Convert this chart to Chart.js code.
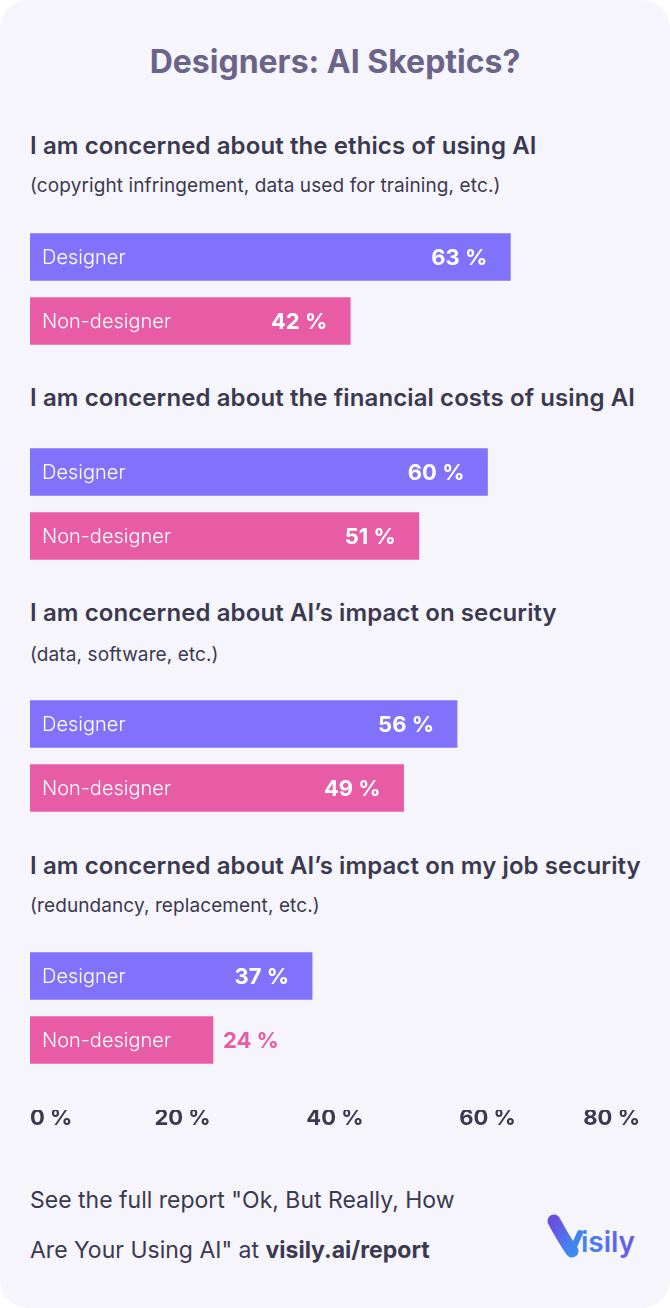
<!DOCTYPE html>
<html>
<head>
<meta charset="utf-8">
<script src="https://cdn.jsdelivr.net/npm/chart.js@4.4.1/dist/chart.umd.min.js"></script>
<style>
  html, body { margin: 0; padding: 0; background: #ffffff; }
  #card {
    position: relative; width: 670px; height: 1308px;
    background: #f6f5fb; border-radius: 28px; overflow: hidden;
    font-family: Inter, "Noto Sans", sans-serif; color: #3b3950;
  }
  .txt { position: absolute; left: 30px; white-space: nowrap; height: 30px; line-height: 30px; }
  .title { left: 0; width: 670px; text-align: center; font-size: 32px; font-weight: 700; color: #6b6489; }
  .q { font-size: 24px; font-weight: 600; letter-spacing: 0.1px; }
  .note { font-size: 19px; font-weight: 400; letter-spacing: 0.1px; }
  .foot { font-size: 23px; font-weight: 400; }
  .chartBox { position: absolute; left: 30px; width: 610px; height: 128px; }
  #axisBox { position: absolute; left: 30px; width: 610px; top: 1110px; height: 60px; }
  #logo { position: absolute; left: 540px; top: 1205px; }
</style>
</head>
<body>
<div id="card">
  <div class="txt title" style="top:47px">Designers: AI Skeptics?</div>
  <div id="texts"></div>
  <div id="charts"></div>
  <div id="axisBox"><canvas id="axisChart"></canvas></div>
  <div class="txt foot" style="top:1185px">See the full report "Ok, But Really, How</div>
  <div class="txt foot" style="top:1235px">Are Your Using AI" at <b style="font-weight:700">visily.ai/report</b></div>
  <svg id="logo" width="110" height="60" viewBox="540 1205 110 60">
    <defs>
      <linearGradient id="lg" x1="0" y1="0" x2="1" y2="1">
        <stop offset="0" stop-color="#6a4fe0"/>
        <stop offset="1" stop-color="#3f8cf0"/>
      </linearGradient>
      <linearGradient id="lt" x1="0" y1="0" x2="1" y2="0">
        <stop offset="0" stop-color="#3f86f0"/>
        <stop offset="1" stop-color="#6a5ae6"/>
      </linearGradient>
    </defs>
    <path d="M554,1221 Q563,1238 572,1251" stroke="url(#lg)" stroke-width="13" stroke-linecap="round" fill="none"/>
    <path d="M572,1251 L580,1233" stroke="#3f86f0" stroke-width="6" stroke-linecap="round" fill="none"/>
    <text x="581" y="1252" font-family="Inter, sans-serif" font-size="28" font-weight="600" fill="url(#lt)">isily</text>
  </svg>
</div>
<script>
// ─── Data ─────────────────────────────────────────────
const questions = [
  'I am concerned about the ethics of using AI',
  'I am concerned about the financial costs of using AI',
  'I am concerned about AI\u2019s impact on security',
  'I am concerned about AI\u2019s impact on my job security'
];
const notes = [
  '(copyright infringement, data used for training, etc.)',
  '',
  '(data, software, etc.)',
  '(redundancy, replacement, etc.)'
];
const groups = ['Designer', 'Non-designer'];
const designer = [63, 60, 56, 37];
const nonDesigner = [42, 51, 49, 24];
const xTicks = [0, 20, 40, 60, 80];

// ─── Layout (px from top of card) ───────────────────────
const questionTop = [131, 383, 598, 851];
const noteTop = [171, 0, 640, 891];
const chartTop = [225, 440, 692, 944];

const COLORS = { designer: '#8172fb', nonDesigner: '#e85ca6', text: '#3b3950' };
const X_MAX = xTicks[xTicks.length - 1];

// bar labels: group name on the left, value on the right
const barLabels = {
  id: 'barLabels',
  afterDatasetsDraw(chart) {
    const ctx = chart.ctx;
    const ds = chart.data.datasets[0];
    ctx.save();
    ctx.textBaseline = 'middle';
    chart.getDatasetMeta(0).data.forEach((bar, i) => {
      ctx.fillStyle = '#ffffff';
      ctx.font = '300 20px Inter, sans-serif';
      ctx.textAlign = 'left';
      const name = chart.data.labels[i];
      ctx.fillText(name, bar.base + 12, bar.y + 1);
      const nameEnd = bar.base + 12 + ctx.measureText(name).width;

      ctx.font = '700 22px Inter, sans-serif';
      const val = ds.data[i] + ' %';
      const w = ctx.measureText(val).width;
      if (bar.x - 23 - w > nameEnd + 10) {
        ctx.textAlign = 'right';
        ctx.fillText(val, bar.x - 23, bar.y + 1);
      } else {
        // no room inside: put it just past the bar end
        ctx.textAlign = 'left';
        ctx.fillStyle = ds.backgroundColor[i];
        ctx.fillText(val, bar.x + 10, bar.y + 1);
      }
    });
    ctx.restore();
  }
};

const textBox = document.getElementById('texts');
const chartBox = document.getElementById('charts');

questions.forEach((q, i) => {
  const qd = document.createElement('div');
  qd.className = 'txt q';
  qd.style.top = questionTop[i] + 'px';
  qd.textContent = q;
  textBox.appendChild(qd);
  if (notes[i]) {
    const nd = document.createElement('div');
    nd.className = 'txt note';
    nd.style.top = noteTop[i] + 'px';
    nd.textContent = notes[i];
    textBox.appendChild(nd);
  }

  const box = document.createElement('div');
  box.className = 'chartBox';
  box.style.top = chartTop[i] + 'px';
  const cv = document.createElement('canvas');
  box.appendChild(cv);
  chartBox.appendChild(box);

  new Chart(cv, {
    type: 'bar',
    data: {
      labels: groups,
      datasets: [{
        data: [designer[i], nonDesigner[i]],
        backgroundColor: [COLORS.designer, COLORS.nonDesigner],
        borderWidth: 0,
        barThickness: 47
      }]
    },
    options: {
      indexAxis: 'y',
      responsive: true,
      maintainAspectRatio: false,
      animation: false,
      layout: { padding: 0 },
      plugins: { legend: { display: false }, tooltip: { enabled: false } },
      scales: {
        x: { display: false, min: 0, max: X_MAX },
        y: { display: false }
      }
    },
    plugins: [barLabels]
  });
});

// ─── Shared x axis ───────────────────────────────────
new Chart(document.getElementById('axisChart'), {
  type: 'bar',
  data: { labels: [''], datasets: [{ data: [] }] },
  options: {
    indexAxis: 'y',
    responsive: true,
    maintainAspectRatio: false,
    animation: false,
    layout: { padding: 0 },
    plugins: { legend: { display: false }, tooltip: { enabled: false } },
    scales: {
      x: {
        position: 'top',
        min: 0, max: X_MAX,
        afterBuildTicks: (axis) => { axis.ticks = xTicks.map(v => ({ value: v })); },
        grid: { display: false },
        border: { display: false },
        ticks: {
          align: 'inner',
          padding: 0,
          maxRotation: 0,
          color: COLORS.text,
          font: { family: 'Inter, sans-serif', size: 22, weight: '700' },
          callback: (v) => v + ' %'
        }
      },
      y: { display: false }
    }
  }
});
</script>
</body>
</html>
